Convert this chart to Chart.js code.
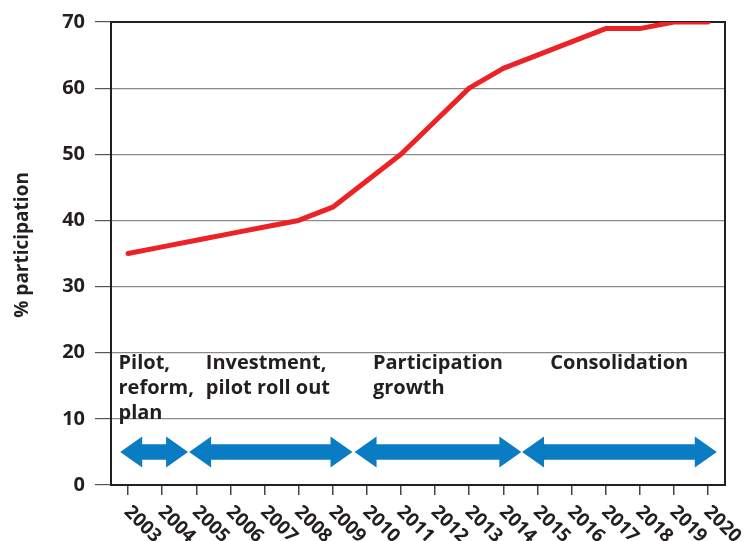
<!DOCTYPE html>
<html>
<head>
<meta charset="utf-8">
<script src="https://cdn.jsdelivr.net/npm/chart.js@4/dist/chart.umd.min.js"></script>
<style>
html,body{margin:0;padding:0;background:#fff;}
#wrap{width:746px;height:541px;position:relative;}
</style>
</head>
<body>
<div id="wrap"><canvas id="c"></canvas></div>
<script>
// ---- data ----
const years = ['2003','2004','2005','2006','2007','2008','2009','2010','2011','2012','2013','2014','2015','2016','2017','2018','2019','2020'];
const participation = [35,36,37,38,39,40,42,46,50,55,60,63,65,67,69,69,70,70];
const yTicks = [0,10,20,30,40,50,60,70];
const yTitle = '% participation';
const phaseNames = [['Pilot,','reform,','plan'],['Investment,','pilot roll out'],['Participation','growth'],['Consolidation']];
const phaseStart = [2002.77, 2004.79, 2009.64, 2014.55];
const phaseEnd   = [2004.76, 2009.58, 2014.53, 2020.26];
const phaseLabelX = [2002.72, 2005.28, 2010.18, 2015.38];
const phaseArrowLevel = 5;
const phaseLabelLevel = 17.6;
const yTitleCenter = 36.3;

const FONT = "'Open Sans', 'Noto Sans', sans-serif";
const TEXT = '#231f20';

const decoPlugin = {
  id: 'deco',
  beforeDatasetsDraw(chart) {
    const {ctx, chartArea: a} = chart;
    ctx.save();
    ctx.strokeStyle = '#231f20';
    ctx.lineWidth = 2;
    ctx.strokeRect(a.left, a.top, a.right - a.left, a.bottom - a.top);
    ctx.restore();
  },
  afterDatasetsDraw(chart) {
    const {ctx} = chart;
    const xs = chart.scales.x, ys = chart.scales.y;
    const base = Number(years[0]);
    ctx.save();
    // arrows
    ctx.fillStyle = '#0a7cc4';
    const yc = ys.getPixelForValue(phaseArrowLevel);
    const sh = 7.8, hh = 15.5, hl = 22;
    for (let i = 0; i < phaseStart.length; i++) {
      const x0 = xs.getPixelForValue(phaseStart[i] - base);
      const x1 = xs.getPixelForValue(phaseEnd[i] - base);
      ctx.beginPath();
      ctx.moveTo(x0, yc);
      ctx.lineTo(x0 + hl, yc - hh);
      ctx.lineTo(x0 + hl, yc - sh);
      ctx.lineTo(x1 - hl, yc - sh);
      ctx.lineTo(x1 - hl, yc - hh);
      ctx.lineTo(x1, yc);
      ctx.lineTo(x1 - hl, yc + hh);
      ctx.lineTo(x1 - hl, yc + sh);
      ctx.lineTo(x0 + hl, yc + sh);
      ctx.lineTo(x0 + hl, yc + hh);
      ctx.closePath();
      ctx.fill();
    }
    // phase labels
    ctx.fillStyle = TEXT;
    ctx.font = "bold 20px " + FONT;
    ctx.textAlign = 'left';
    ctx.textBaseline = 'alphabetic';
    const ly = ys.getPixelForValue(phaseLabelLevel);
    for (let i = 0; i < phaseNames.length; i++) {
      const lx = xs.getPixelForValue(phaseLabelX[i] - base);
      phaseNames[i].forEach((t, k) => ctx.fillText(t, lx, ly + k * 25));
    }
    // rotated x tick labels
    ctx.font = "bold 19px " + FONT;
    ctx.textBaseline = 'middle';
    years.forEach((t, i) => {
      const x = xs.getPixelForValue(i);
      ctx.save();
      ctx.translate(x - 1, 509);
      ctx.rotate(Math.PI / 4);
      ctx.fillText(t, 0, 0);
      ctx.restore();
    });
    // y axis title
    ctx.font = "bold 19px " + FONT;
    ctx.textAlign = 'center';
    ctx.textBaseline = 'middle';
    ctx.save();
    ctx.translate(23, ys.getPixelForValue(yTitleCenter));
    ctx.rotate(-Math.PI / 2);
    ctx.fillText(yTitle, 0, 0);
    ctx.restore();
    ctx.restore();
  }
};

new Chart(document.getElementById('c'), {
  type: 'line',
  data: {
    labels: years,
    datasets: [{
      data: participation,
      borderColor: '#ed2227',
      borderWidth: 5,
      borderCapStyle: 'round',
      borderJoinStyle: 'round',
      pointRadius: 0,
      tension: 0,
      fill: false
    }]
  },
  options: {
    responsive: true,
    maintainAspectRatio: false,
    animation: false,
    events: [],
    layout: {padding: {top: 21, right: 21, bottom: 46, left: 0}},
    plugins: {legend: {display: false}, tooltip: {enabled: false}},
    scales: {
      x: {
        type: 'category',
        offset: true,
        grid: {display: true, drawOnChartArea: false, drawTicks: true, tickLength: 10, offset: false, color: '#444', lineWidth: 1.5},
        border: {display: true, color: '#231f20', width: 2},
        ticks: {display: false},
        afterFit(s) { s.height = 10; }
      },
      y: {
        min: 0, max: 70,
        afterBuildTicks(s) { s.ticks = yTicks.map(v => ({value: v})); },
        grid: {color: '#8a8a8a', lineWidth: 1.2, tickLength: 16, tickColor: '#555'},
        border: {display: true, color: '#231f20', width: 2},
        ticks: {color: TEXT, font: {family: FONT, size: 20, weight: 'bold'}, padding: 10},
        title: {display: false},
        afterFit(s) { s.width = 111; }
      }
    }
  },
  plugins: [decoPlugin]
});
</script>
</body>
</html>
